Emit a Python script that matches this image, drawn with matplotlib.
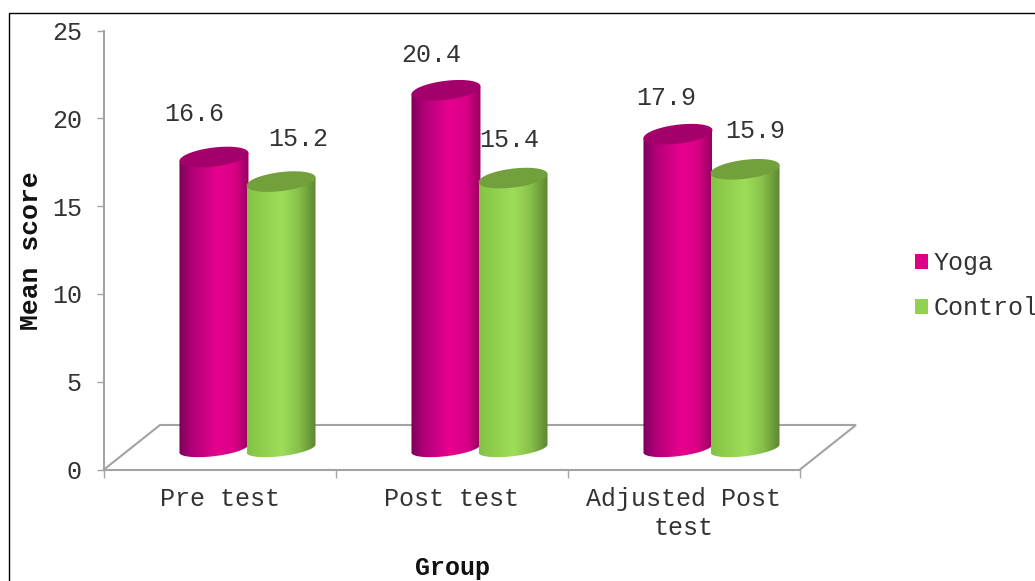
#!/usr/bin/env python3
"""Mean score by group, drawn as 3D-style cylinders on a floor."""

import matplotlib
matplotlib.use("Agg")
import matplotlib.pyplot as plt
import numpy as np
from matplotlib.colors import LinearSegmentedColormap
from matplotlib.lines import Line2D
from matplotlib.patches import Patch, Polygon

groups = ["Pre test", "Post test", "Adjusted Post\ntest"]
series_names = ["Yoga", "Control"]
yoga = [16.6, 20.4, 17.9]
control = [15.2, 15.4, 15.9]
y_ticks = [0, 5, 10, 15, 20, 25]

# label offsets from the bar top, in pixels
yoga_label_offsets = [(-20, 43), (-15, 35), (-12, 36)]
control_label_offsets = [(17, 43), (-4, 38), (10, 38)]

W, H = 1035, 581
AX_L, AX_R, AX_T, AX_B = 104, 800, 30.5, 469.5
PX_X = 3 / (AX_R - AX_L)
PX_Y = 25 / (AX_B - AX_T)
DEPTH_X, DEPTH_Y = 56, 44.5
LIFT = 21
RX, RY_TOP, RY_BOTTOM, SHEAR = 34.5, 9.5, 7.7, 4.0

GREY = "#a3a3a3"
TEXT = "#333333"
FS = 18

plt.rcParams["font.family"] = ["Liberation Mono", "DejaVu Sans"]

yoga_cmap = LinearSegmentedColormap.from_list(
    "yoga", [(0, "#7d0058"), (0.18, "#b00078"), (0.55, "#e8008f"), (0.8, "#d80086"), (1, "#96005f")]
)
control_cmap = LinearSegmentedColormap.from_list(
    "control", [(0, "#84c244"), (0.25, "#92d14f"), (0.5, "#9edd58"), (0.75, "#88c04a"), (1, "#5c8632")]
)


def ellipse_points(cx, cy, ry, t):
    # cx in data units, cy in value units; the ellipse leans up to the right
    dx = RX * np.cos(t)
    dy = ry * np.sin(t) + SHEAR * np.cos(t)
    return np.column_stack([cx + dx * PX_X, cy + dy * PX_Y])


def draw_cylinder(ax, cx, value, cmap, cap_color, zorder):
    base = LIFT * PX_Y
    top = base + value
    lower = ellipse_points(cx, base, RY_BOTTOM, np.linspace(np.pi, 2 * np.pi, 60))
    upper = ellipse_points(cx, top, RY_TOP, np.array([0.0, np.pi]))
    body = Polygon(np.vstack([lower, upper]), closed=True, transform=ax.transData,
                   facecolor="none", edgecolor="none")
    ax.add_patch(body)
    grad = np.linspace(0, 1, 256).reshape(1, -1)
    im = ax.imshow(
        grad,
        extent=[cx - RX * PX_X, cx + RX * PX_X, base - 2 * RY_BOTTOM * PX_Y, top + 2 * RY_TOP * PX_Y],
        aspect="auto",
        cmap=cmap,
        zorder=zorder,
    )
    im.set_clip_path(body)
    cap = Polygon(ellipse_points(cx, top, RY_TOP, np.linspace(0, 2 * np.pi, 120)), closed=True,
                  facecolor=cap_color, edgecolor="none", zorder=zorder + 0.1)
    ax.add_patch(cap)


fig = plt.figure(figsize=(W / 100, H / 100), dpi=100, facecolor="white")
ax = fig.add_axes([AX_L / W, (H - AX_B) / H, (AX_R - AX_L) / W, (AX_B - AX_T) / H])

# floor outline behind the bars
dx, dy = DEPTH_X * PX_X, DEPTH_Y * PX_Y
ax.plot([0, dx, 3 + dx, 3], [0, dy, dy, 0], color=GREY, lw=1.5, clip_on=False, zorder=1,
        solid_joinstyle="miter")

for i in range(len(groups)):
    yoga_x, control_x = i + 0.474, i + 0.763
    draw_cylinder(ax, yoga_x, yoga[i], yoga_cmap, "#a3006c", 3)
    draw_cylinder(ax, control_x, control[i], control_cmap, "#72a03c", 4)
    for x, v, off in ((yoga_x, yoga[i], yoga_label_offsets[i]),
                      (control_x, control[i], control_label_offsets[i])):
        ax.annotate(f"{v}", xy=(x, v + LIFT * PX_Y), xytext=off, textcoords="offset pixels",
                    ha="center", va="center", fontsize=FS, color=TEXT, zorder=6)

ax.set_xlim(0, 3)
ax.set_ylim(0, 25)
ax.patch.set_alpha(0)
for side in ("top", "right"):
    ax.spines[side].set_visible(False)
for side in ("left", "bottom"):
    ax.spines[side].set_color(GREY)
    ax.spines[side].set_linewidth(1.5)

ax.set_yticks(y_ticks)
ax.tick_params(axis="y", length=5, width=1, color=GREY, labelsize=FS, labelcolor=TEXT, pad=11)
ax.set_xticks(range(len(groups) + 1))
ax.set_xticklabels([])
ax.tick_params(axis="x", which="major", length=6, width=1, color=GREY)
ax.set_xticks(np.arange(len(groups)) + 0.5, minor=True)
ax.set_xticklabels(groups, minor=True, linespacing=1.3)
ax.tick_params(axis="x", which="minor", length=0, labelsize=FS, labelcolor=TEXT, pad=12.4)

fig.text(31 / W, 1 - 251 / H, "Mean score", rotation=90, ha="center", va="center",
         fontsize=19, fontweight="bold", color="#111111")
fig.text(452 / W, 1 - 568 / H, "Group", ha="center", va="center",
         fontsize=FS, fontweight="bold", color="#111111")

handles = [Patch(facecolor="#dc0088", edgecolor="none"), Patch(facecolor="#92d14f", edgecolor="none")]
fig.legend(handles, series_names, loc="upper left", bbox_to_anchor=(909.5 / W, 1 - 246 / H),
           frameon=False, fontsize=FS, labelcolor=TEXT, handlelength=0.55, handleheight=0.55,
           handletextpad=0.2, labelspacing=0.85, borderpad=0.2, borderaxespad=0)

# outer frame, open at the image edge
fig.add_artist(Line2D([9 / W, 9 / W, 1], [0, 1 - 13 / H, 1 - 13 / H],
                      color="black", lw=1.0, transform=fig.transFigure))

fig.savefig("out.png", dpi=100)
plt.close(fig)
